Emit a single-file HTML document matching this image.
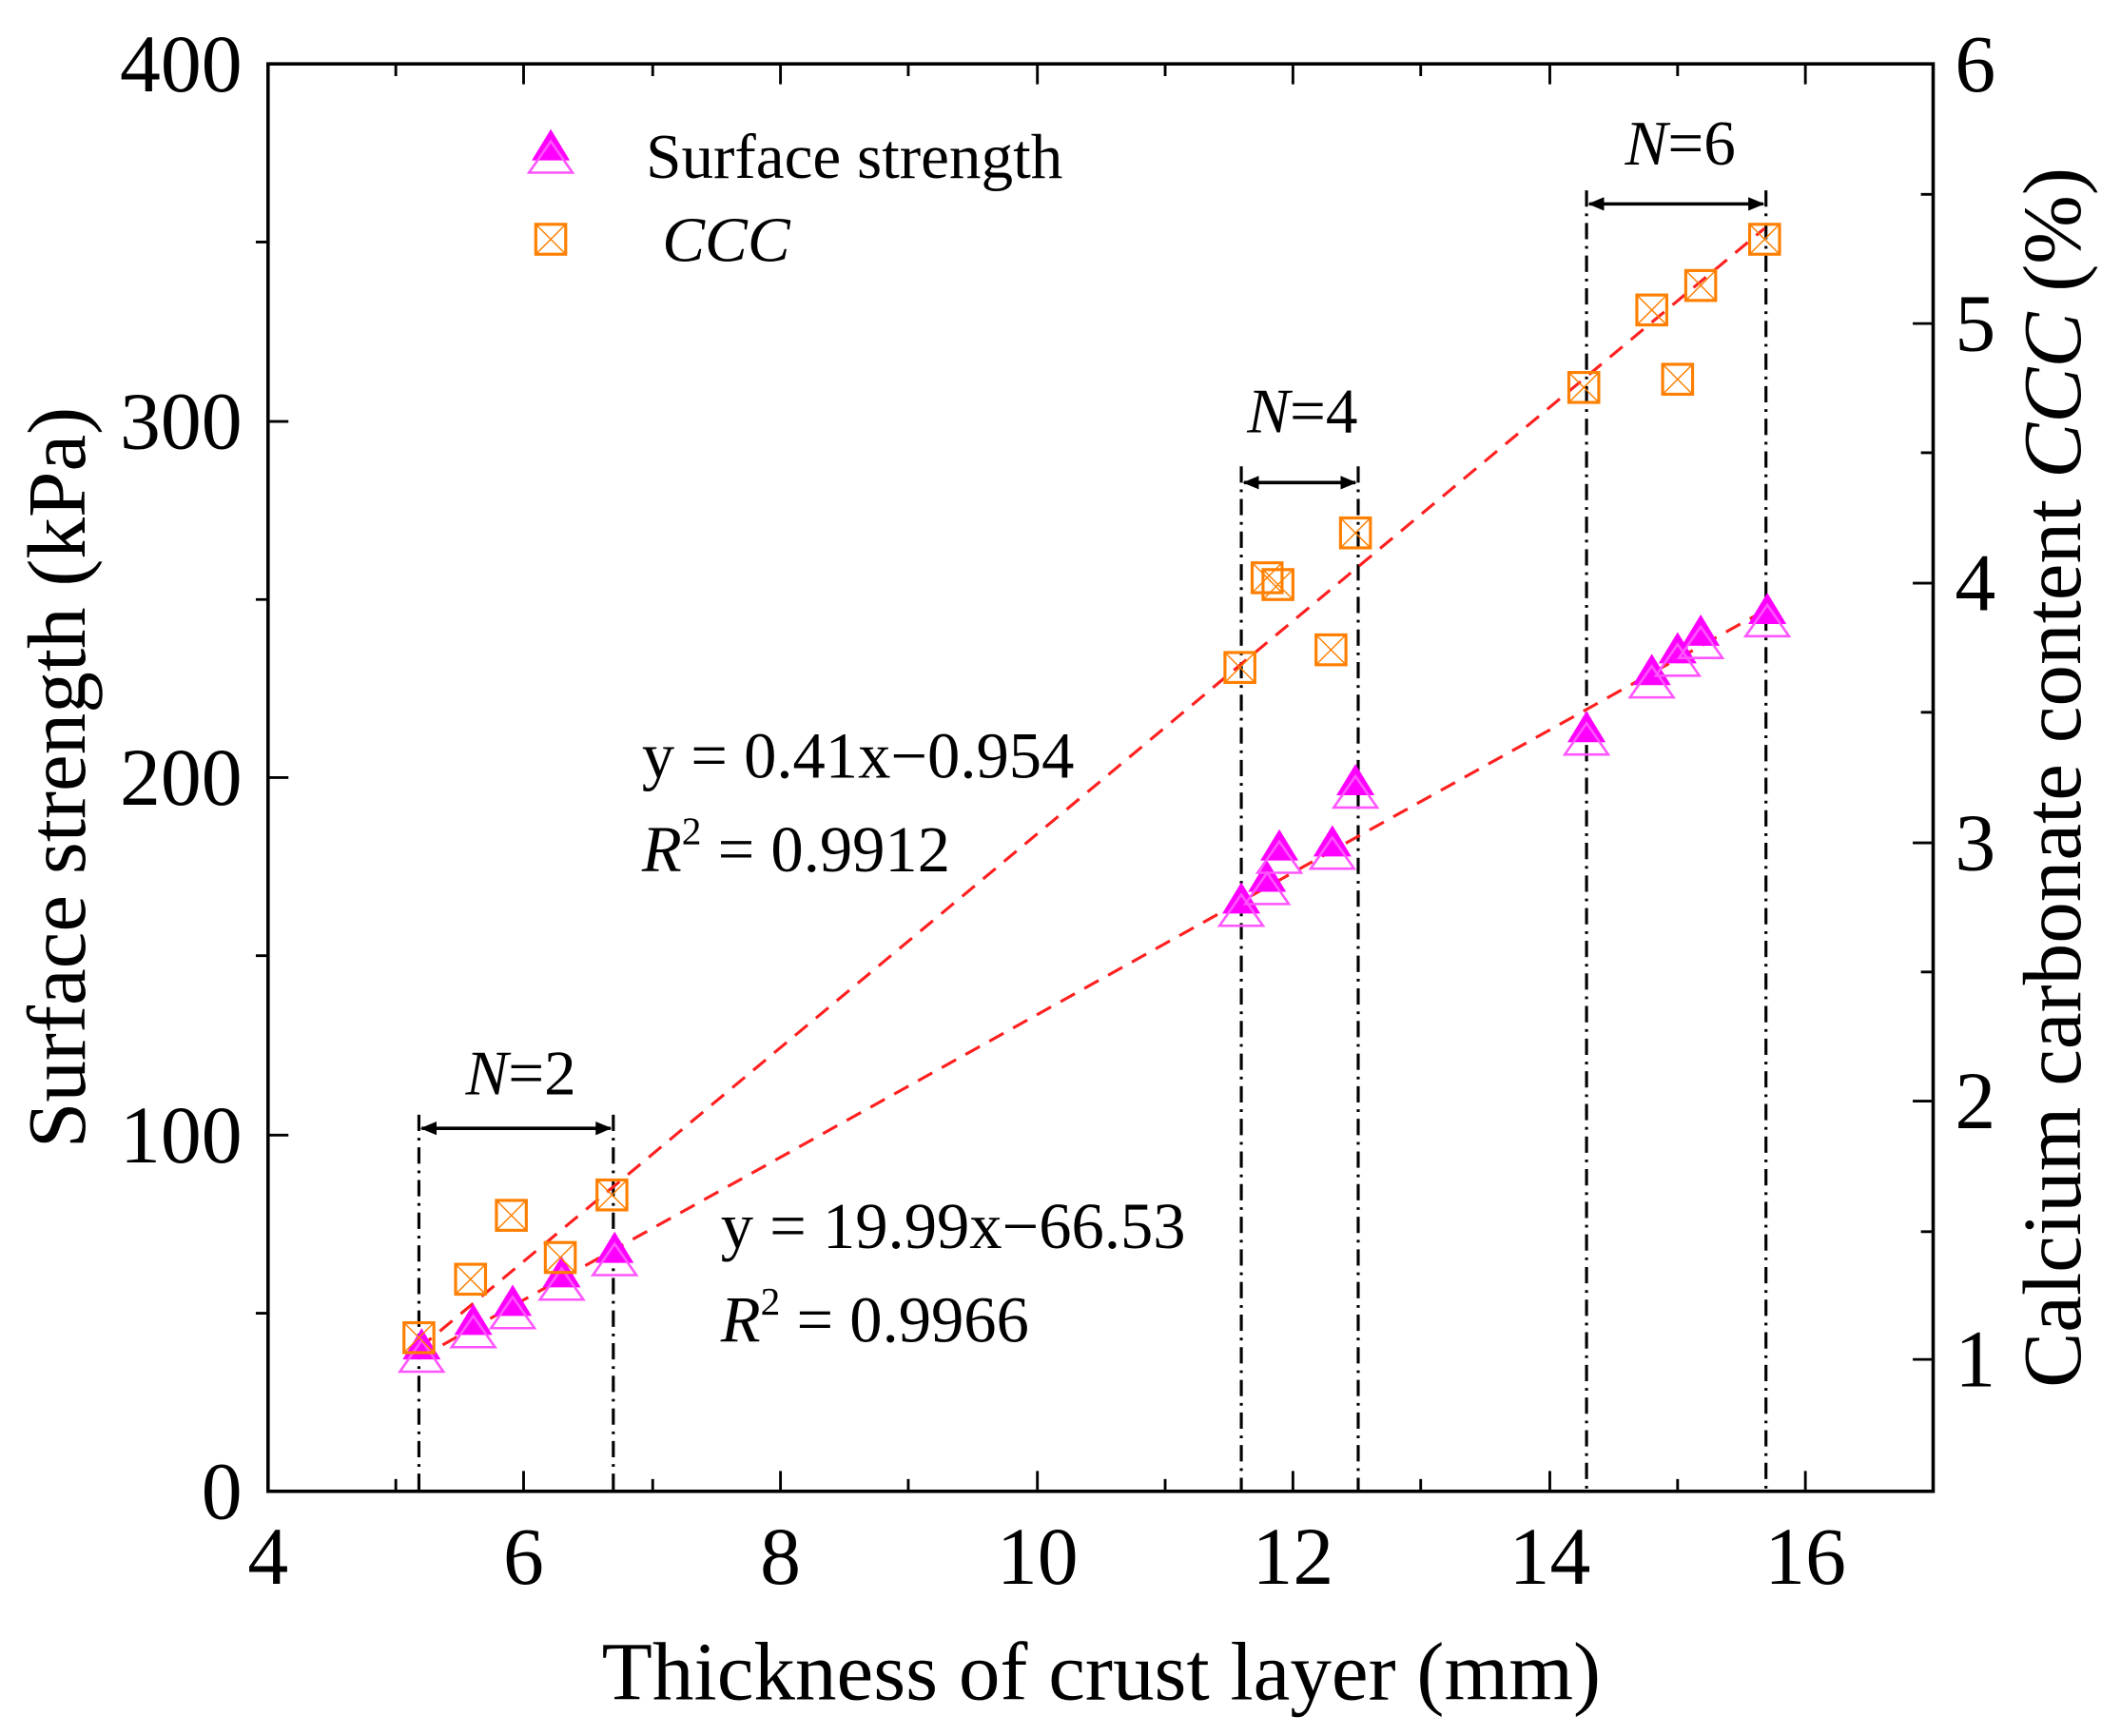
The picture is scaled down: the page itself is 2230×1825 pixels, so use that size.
<!DOCTYPE html>
<html><head><meta charset="utf-8"><style>html,body{margin:0;padding:0;background:#fff}svg{display:block}</style></head>
<body>
<svg width="2230" height="1825" viewBox="0 0 1560 1277" xmlns="http://www.w3.org/2000/svg" font-family="'Liberation Serif',serif">
<defs>
<g id="tri"><polygon points="0,-15 -14,8 14,8" fill="#ff00ff"/><polygon points="0,-6 -16,17 16,17" fill="none" stroke="#ff55ff" stroke-width="1.8"/></g>
<g id="sq" fill="none" stroke="#ff7f00" stroke-width="2.2"><rect x="-11" y="-11" width="22" height="22"/><path d="M-11,-11L11,11M11,-11L-11,11" stroke-width="1"/></g>
<marker id="ah" markerWidth="12" markerHeight="10" refX="11" refY="5" orient="auto-start-reverse" markerUnits="userSpaceOnUse"><path d="M0,0L12,5L0,10z" fill="#000"/></marker>
</defs>
<rect x="197" y="47" width="1225" height="1050" fill="none" stroke="#000" stroke-width="2.5"/>
<g stroke="#000" stroke-width="2">
<path d="M197,1097v-15M291,1097v-9M385,1097v-15M480,1097v-9M574,1097v-15M668,1097v-9M763,1097v-15M857,1097v-9M951,1097v-15M1045,1097v-9M1140,1097v-15M1234,1097v-9M1328,1097v-15"/>
<path d="M197,47v15M291,47v9M385,47v15M480,47v9M574,47v15M668,47v9M763,47v15M857,47v9M951,47v15M1045,47v9M1140,47v15M1234,47v9M1328,47v15M1422,47v9"/>
<path d="M197,966h-9M197,835h15M197,703h-9M197,572h15M197,441h-9M197,310h15M197,178h-9"/>
<path d="M1422,1000h-15M1422,906h-9M1422,810h-15M1422,715h-9M1422,620h-15M1422,524h-9M1422,429h-15M1422,333h-9M1422,238h-15M1422,143h-9"/>
</g>
<g font-size="60" fill="#000">
<g text-anchor="middle"><text x="197" y="1165">4</text><text x="385" y="1165">6</text><text x="574" y="1165">8</text><text x="763" y="1165">10</text><text x="951" y="1165">12</text><text x="1140" y="1165">14</text><text x="1328" y="1165">16</text></g>
<g text-anchor="end"><text x="178" y="1117">0</text><text x="178" y="855">100</text><text x="178" y="592">200</text><text x="178" y="330">300</text><text x="178" y="67">400</text></g>
<g><text x="1438" y="1020">1</text><text x="1438" y="830">2</text><text x="1438" y="640">3</text><text x="1438" y="449">4</text><text x="1438" y="258">5</text><text x="1438" y="67">6</text></g>
</g>
<text x="810" y="1250" font-size="61" text-anchor="middle">Thickness of crust layer (mm)</text>
<text transform="translate(62,572) rotate(-90)" font-size="61" text-anchor="middle">Surface strength (kPa)</text>
<text transform="translate(1530,572) rotate(-90)" font-size="61" text-anchor="middle">Calcium carbonate content <tspan font-style="italic">CCC</tspan> (%)</text>
<use href="#tri" x="405" y="110"/><text x="475" y="131" font-size="47">Surface strength</text>
<use href="#sq" x="405" y="176"/><text x="487" y="192" font-size="47" font-style="italic">CCC</text>
<g stroke="#000" stroke-width="2.2" stroke-dasharray="12,5,2,5">
<path d="M308,820V1097M451,820V1097M913,343V1097M999,343V1097M1167,140V1097M1299,140V1097"/>
</g>
<g stroke="#000" stroke-width="2.5" marker-start="url(#ah)" marker-end="url(#ah)">
<path d="M310,830H449"/><path d="M915,355H997"/><path d="M1169,150H1297"/>
</g>
<g font-size="47" text-anchor="middle"><text x="383" y="805"><tspan font-style="italic">N</tspan>=2</text><text x="958" y="318"><tspan font-style="italic">N</tspan>=4</text><text x="1236" y="121"><tspan font-style="italic">N</tspan>=6</text></g>
<g stroke="#ff2020" stroke-width="2.2" stroke-dasharray="12,8" fill="none">
<path d="M308,999L1300,448"/><path d="M308,992L1298,168"/>
</g>
<g font-size="48"><text x="472" y="572">y = 0.41x−0.954</text><text x="472" y="641"><tspan font-style="italic">R</tspan><tspan font-size="29" dy="-20">2</tspan><tspan dy="20"> = 0.9912</tspan></text>
<text x="530" y="918">y = 19.99x−66.53</text><text x="530" y="987"><tspan font-style="italic">R</tspan><tspan font-size="29" dy="-20">2</tspan><tspan dy="20"> = 0.9966</tspan></text></g>
<g>
<use href="#tri" x="310" y="992"/><use href="#tri" x="348" y="974"/><use href="#tri" x="377" y="960"/><use href="#tri" x="413" y="939"/><use href="#tri" x="452" y="921"/>
<use href="#tri" x="913" y="664"/><use href="#tri" x="932" y="648"/><use href="#tri" x="941" y="625"/><use href="#tri" x="980" y="622"/><use href="#tri" x="997" y="577"/>
<use href="#tri" x="1167" y="538"/><use href="#tri" x="1215" y="496"/><use href="#tri" x="1234" y="480"/><use href="#tri" x="1251" y="467"/><use href="#tri" x="1300" y="451"/>
</g>
<g>
<use href="#sq" x="308" y="984"/><use href="#sq" x="346" y="941"/><use href="#sq" x="376" y="894"/><use href="#sq" x="412" y="925"/><use href="#sq" x="450" y="879"/>
<use href="#sq" x="912" y="491"/><use href="#sq" x="932" y="425"/><use href="#sq" x="940" y="430"/><use href="#sq" x="979" y="478"/><use href="#sq" x="997" y="392"/>
<use href="#sq" x="1165" y="285"/><use href="#sq" x="1215" y="228"/><use href="#sq" x="1234" y="279"/><use href="#sq" x="1251" y="210"/><use href="#sq" x="1298" y="176"/>
</g>
</svg>
</body></html>
